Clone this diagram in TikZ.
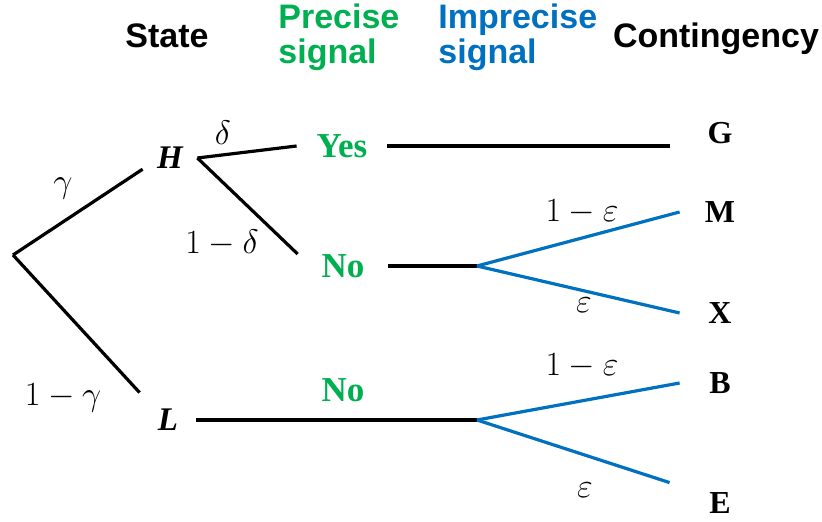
\RequirePackage{fix-cm}
\documentclass[tikz,border=0pt]{standalone}
\usepackage[no-math]{fontspec}
\setmainfont{Liberation Serif}
\setsansfont{Liberation Sans}
\usepackage{amsmath,amssymb}
\usepackage{xcolor}
\usepackage{tikz}
\usetikzlibrary{positioning,calc}
\definecolor{prec}{HTML}{00B050}
\definecolor{impr}{HTML}{0070C0}
\tikzset{
  hdr/.style={font=\sffamily\bfseries\fontsize{17}{17.5}\selectfont,
              inner sep=0pt, align=left},
  stt/.style={font=\bfseries\itshape\fontsize{16.5}{19}\selectfont, inner sep=0pt},
  sig/.style={font=\bfseries\fontsize{17.5}{19}\selectfont, text=prec, inner sep=0pt},
  cont/.style={font=\bfseries\fontsize{16}{19}\selectfont, inner sep=0pt,
               minimum width=40pt},
  prob/.style={font=\fontsize{17}{19}\selectfont, inner sep=0pt},
  br/.style={line width=1.6pt, draw=black},
  brb/.style={br, draw=impr},
}

\begin{document}
\begin{tikzpicture}[x=0.5pt, y=-0.5pt]
\useasboundingbox (0,0) rectangle (822,522);

% ---- headers ----
\node[hdr, anchor=base] (state) at (167,48) {State};
\node[hdr, text=prec, anchor=west] (precise) at (278,37) {Precise\\signal};
\node[hdr, text=impr, anchor=west] (imprecise) at (438,37) {Imprecise\\signal};
\node[hdr, anchor=base] (contg) at (716,48) {Contingency};

% ---- state ----
\coordinate (root) at (13,255);
\node[stt, minimum width=27pt, minimum height=9pt] (H) at (170,158) {H};
\node[stt, minimum width=28pt, minimum height=27pt] (L) at (168,420) {L};

% ---- precise signal ----
\node[sig, minimum width=45pt] (yes) at (342,146) {Yes};
\node[sig, minimum width=45pt] (no1) at (343,266) {No};
\node[sig] (no2) at (343,390) {No};
\coordinate (s1) at (477,266);
\coordinate (s2) at (477,420);

% ---- contingency ----
\node[cont, minimum width=50pt] (G) at (720,133) {G};
\node[cont] (M) at (720,212) {M};
\node[cont] (X) at (720,313) {X};
\node[cont] (B) at (720,383) {B};
\node[cont, minimum width=50pt, minimum height=20pt] (E) at (720,503) {E};

% ---- branches ----
\draw[br] (root) -- (H.south west);
\draw[br] (root) -- (L.north west);
\draw[br] (H.east) -- (yes.west);
\draw[br] (H.east) -- (no1.north west);
\draw[br] (yes.east) -- (yes.east -| G.west);
\draw[br] (no1.east) -- (s1);
\draw[br] (L.east) -- (s2);

% imprecise signal = blue
\draw[brb] (s1) -- (M.west);
\draw[brb] (s1) -- (X.west);
\draw[brb] (s2) -- (B.west);
\draw[brb] (s2) -- (E.north west);

% ---- probabilities ----
\node[prob] (pg)  at (63,188)  {$\gamma$};
\node[prob] (pg1) at (63,398)  {$1-\gamma$};
\node[prob] (pd)  at (223,133) {$\delta$};
\node[prob] (pd1) at (222,243) {$1-\delta$};
\node[prob] (pe1) at (582,212) {$1-\varepsilon$};
\node[prob] (pe2) at (584,305) {$\varepsilon$};
\node[prob] (pe3) at (582,366) {$1-\varepsilon$};
\node[prob] (pe4) at (585,490) {$\varepsilon$};

\end{tikzpicture}
\end{document}
